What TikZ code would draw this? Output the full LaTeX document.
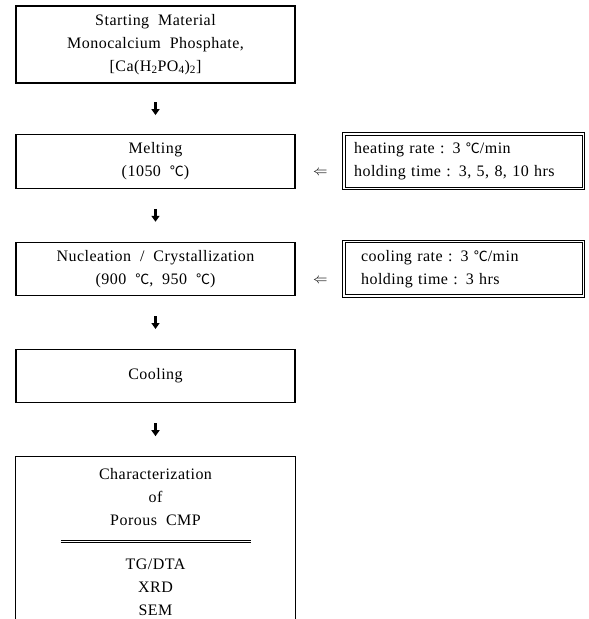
\documentclass[tikz,border=0pt]{standalone}
\usepackage{fontspec}
\setmainfont[LetterSpace=3,WordSpace=2]{Liberation Serif}
\newfontfamily\cjk{Noto Sans CJK KR}
\newcommand\degc{{\cjk\fontsize{14}{23}\selectfont ℃}}
\usetikzlibrary{positioning, arrows.meta}

\begin{document}
\begin{tikzpicture}[
        x=1pt, y=1pt,
        node distance=53pt and 48pt,
        every node/.style={align=center, font=\fontsize{16}{23}\selectfont},
        proc/.style={draw, line width=1.2pt, minimum width=279pt, inner sep=0pt},
        cond/.style={draw, line width=1pt, minimum height=52pt, align=left, inner ysep=0pt},
        frame/.style={line width=0.7pt},
        imp/.style={inner sep=0pt, font=\fontsize{15}{15}\selectfont},
        link/.style={-{Triangle[width=8pt,length=6pt]}, line width=3.5pt, shorten <=20pt, shorten >=20pt}
    ]
    \useasboundingbox (0,0) rectangle (589,-619);

    % Process steps
    \node[proc, minimum height=77pt] (start) at (155.5,-44.5) {Starting Material\\Monocalcium Phosphate,\\{}[Ca(H\textsubscript{2}PO\textsubscript{4})\textsubscript{2}]};
    \node[proc, minimum height=54pt, below=50pt of start] (melt) {Melting\\(1050 \degc)};
    \node[proc, minimum height=53pt, below=of melt] (nucl) {Nucleation / Crystallization\\(900 \degc, 950 \degc)};
    \node[proc, minimum height=53pt, below=of nucl] (cool) {Cooling};
    \node[proc, draw=none, minimum height=175pt, below=of cool] (char) {};

    % Arrows between steps
    \draw[link, shorten <=18.5pt, shorten >=18.5pt] (start) -- (melt);
    \draw[link] (melt) -- (nucl);
    \draw[link] (nucl) -- (cool);
    \draw[link] (cool) -- (char);

    % Characterization (open at the bottom)
    \draw[line width=1.2pt] (char.south west) |- (char.north east) -- (char.south east);
    \node (charhead) at ([yshift=-41pt]char.north) {Characterization\\of\\Porous CMP};
    \coordinate (rulel) at ([xshift=-95pt,yshift=-84pt]char.north);
    \coordinate (ruler) at ([xshift=95pt,yshift=-84pt]char.north);
    \draw[line width=0.7pt] (rulel) -- (ruler);
    \draw[line width=0.7pt] ([yshift=-2.5pt]rulel) -- ([yshift=-2.5pt]ruler);
    \node (methods) at ([yshift=-131pt]char.north) {TG/DTA\\XRD\\SEM};

    % Conditions (double frame)
    \node[cond, text width=219pt, inner xsep=9pt, right=49pt of melt] (heat) {heating rate : 3 \degc/min\\holding time : 3, 5, 8, 10 hrs};
    \node[cond, text width=205pt, inner xsep=16pt, right=49pt of nucl] (coolr) {cooling rate : 3 \degc/min\\holding time : 3 hrs};
    \draw[frame] ([shift={(-2pt,2pt)}]heat.north west) rectangle ([shift={(2pt,-2pt)}]heat.south east);
    \draw[frame] ([shift={(-2pt,2pt)}]coolr.north west) rectangle ([shift={(2pt,-2pt)}]coolr.south east);
    \node[imp, left=17pt of heat.west, yshift=-12pt] (imp1) {$\Leftarrow$};
    \node[imp, left=17pt of coolr.west, yshift=-12pt] (imp2) {$\Leftarrow$};

\end{tikzpicture}
\end{document}
